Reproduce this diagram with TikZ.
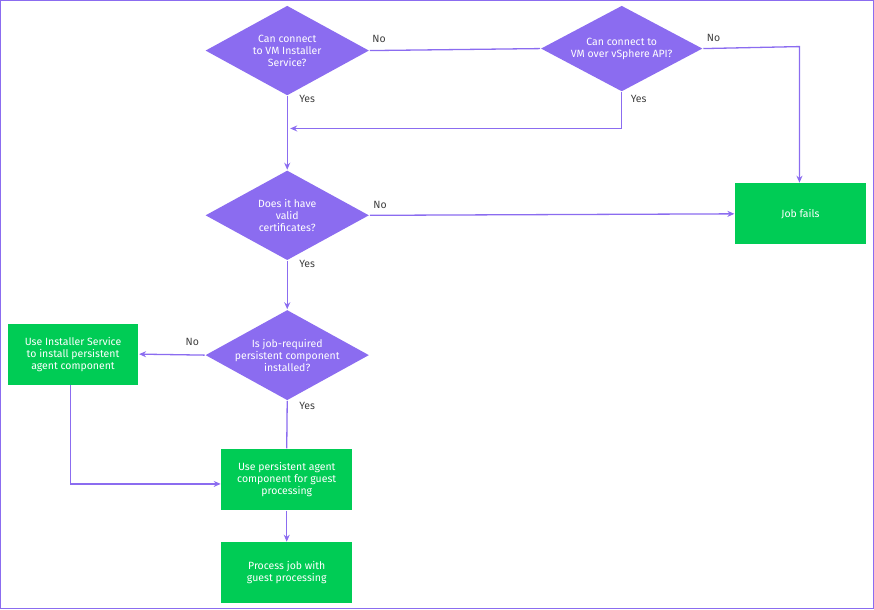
\documentclass[tikz,border=0pt]{standalone}
\usepackage{fontspec}
\setmainfont{Fira Sans}
\usetikzlibrary{shapes.geometric,arrows.meta}
\definecolor{flowpurple}{HTML}{8B6CF0}
\definecolor{flowgreen}{HTML}{00CC55}
\begin{document}
\begin{tikzpicture}[x=1pt,y=-1pt]
	\tikzstyle{every path}=[line width=1.3pt,draw=flowpurple]
	\tikzstyle{check}=[diamond,fill=flowpurple,draw=none,text=white,aspect=1.8,
	inner sep=0pt,minimum width=164pt,minimum height=90pt,align=center,
	font=\fontsize{10.5}{12}\selectfont]
	\tikzstyle{action}=[rectangle,fill=flowgreen,draw=none,text=white,
	minimum width=131pt,minimum height=61pt,align=center,
	font=\fontsize{10.5}{12}\selectfont]
	\tikzstyle{lbl}=[text=black!75,font=\fontsize{10.5}{12}\selectfont]
	\tikzstyle{go}=[-{Stealth[length=7pt,width=6pt]}]

	\useasboundingbox (0,0) rectangle (874,609);

	%% decisions
	\node [check] (vmsvc) at (287,50) {Can connect\\to VM Installer\\Service?};
	\node [check,minimum width=162pt,minimum height=86pt] (vsapi) at (622,48) {Can connect to\\VM over vSphere API?};
	\node [check] (cert) at (287,215) {Does it have\\valid\\certificates?};
	\node [check,minimum height=86pt] (comp) at (287,355) {Is job-required\\persistent component\\installed?};

	%% actions
	\node [action] (fails) at (801,213.5) {Job fails};
	\node [action] (install) at (72.5,354) {Use Installer Service\\to install persistent\\agent component};
	\node [action] (useagent) at (286.5,479.5) {Use persistent agent\\component for guest\\processing};
	\node [action] (process) at (286.5,573) {Process job with\\guest processing};

	%% connectors
	\draw (vmsvc.east) -- (vsapi.west);
	\node [lbl] at (379,38) {No};
	\draw [go] (vsapi.east) -- (800,46) -- (fails.north -| 800,0);
	\node [lbl] at (714,37) {No};
	\draw [go] (vsapi.south) -- (622,128) -- (290,128);
	\node [lbl] at (639,98) {Yes};
	\draw [go] (vmsvc.south) -- (cert.north);
	\node [lbl] at (307,98) {Yes};
	\draw [go] (cert.east) -- (fails.west);
	\node [lbl] at (380,205) {No};
	\draw [go] (cert.south) -- (comp.north);
	\node [lbl] at (307,264) {Yes};
	\draw [go] (comp.west) -- (install.east);
	\node [lbl] at (192,342) {No};
	\draw (comp.south) -- (useagent.north);
	\node [lbl] at (307,406) {Yes};
	\draw [go] (install.south -| 70,0) -- (70,484) -- (useagent.west |- 0,484);
	\draw [go] (useagent.south) -- (process.north);
\end{tikzpicture}
\end{document}
